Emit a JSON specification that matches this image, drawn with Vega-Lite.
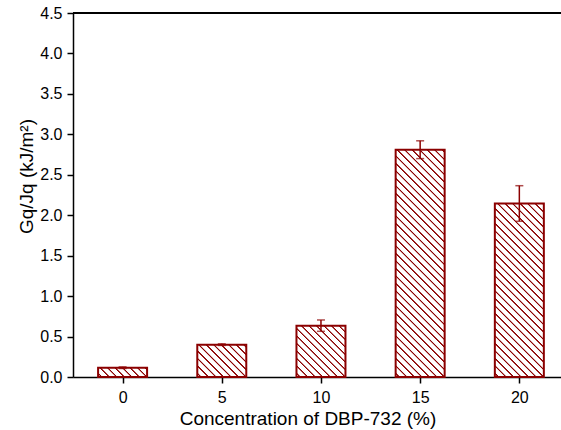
{
  "$schema": "https://vega.github.io/schema/vega-lite/v6.json",
  "width": 488,
  "height": 364,
  "autosize": {"type": "none"},
  "padding": {"left": 73, "top": 13, "right": 0, "bottom": 53},
  "background": "white",
  "config": {
    "view": {"stroke": null},
    "axis": {
      "labelFont": "Liberation Sans",
      "titleFont": "Liberation Sans",
      "domainColor": "#000",
      "tickColor": "#000",
      "labelColor": "#000",
      "titleColor": "#000",
      "grid": false,
      "domainWidth": 1.5,
      "tickWidth": 1.5,
      "labelFontSize": 16,
      "titleFontSize": 19,
      "titleFontWeight": "normal"
    }
  },
  "data": {
    "values": [
      {"conc": 0, "value": 0.115, "sd": 0.01},
      {"conc": 5, "value": 0.40, "sd": 0.01},
      {"conc": 10, "value": 0.635, "sd": 0.07},
      {"conc": 15, "value": 2.81, "sd": 0.11},
      {"conc": 20, "value": 2.145, "sd": 0.22}
    ]
  },
  "layer": [
    {
      "mark": {"type": "bar", "size": 49, "stroke": "#8b0000", "strokeWidth": 2},
      "encoding": {
        "x": {
          "field": "conc", "type": "quantitative",
          "title": "Concentration of DBP-732 (%)",
          "scale": {"domain": [-2.5, 22.1], "nice": false, "zero": false, "padding": 0},
          "axis": {
            "values": [0, 5, 10, 15, 20],
            "format": "d",
            "tickSize": 6,
            "labelPadding": 6,
            "labelFontSize": 16,
            "titleFontSize": 19,
            "titleFontWeight": "normal",
            "titleX": 234.5,
            "titleY": 47,
            "titleBaseline": "alphabetic"
          }
        },
        "y": {
          "field": "value", "type": "quantitative",
          "title": "Gq/Jq (kJ/m²)",
          "scale": {"domain": [0, 4.5], "nice": false, "padding": 0},
          "axis": {
            "values": [0, 0.25, 0.5, 0.75, 1, 1.25, 1.5, 1.75, 2, 2.25, 2.5, 2.75, 3, 3.25, 3.5, 3.75, 4, 4.25, 4.5],
            "labelExpr": "datum.value % 0.5 === 0 ? format(datum.value, '.1f') : ''",
            "tickSize": {"condition": {"test": "datum.value % 0.5 !== 0", "value": 3}, "value": 6},
            "labelPadding": 5,
            "labelFontSize": 16,
            "titleFontSize": 19,
            "titleFontWeight": "normal",
            "titleX": -41,
            "titleY": 163,
            "titleBaseline": "alphabetic"
          }
        },
        "fill": {"value": {"expr": "{gradient:'linear', x1:0, y1:1, x2: 300*49/(2401+pow(datum.value*80.8889,2)), y2: 1-300*datum.value*80.8889/(2401+pow(datum.value*80.8889,2)), stops:[{offset:0.0085,color:'#fff'},{offset:0.011,color:'#8b0000'},{offset:0.014,color:'#8b0000'},{offset:0.0165,color:'#fff'},{offset:0.0335,color:'#fff'},{offset:0.036,color:'#8b0000'},{offset:0.039,color:'#8b0000'},{offset:0.0415,color:'#fff'},{offset:0.0585,color:'#fff'},{offset:0.061,color:'#8b0000'},{offset:0.064,color:'#8b0000'},{offset:0.0665,color:'#fff'},{offset:0.0835,color:'#fff'},{offset:0.086,color:'#8b0000'},{offset:0.089,color:'#8b0000'},{offset:0.0915,color:'#fff'},{offset:0.1085,color:'#fff'},{offset:0.111,color:'#8b0000'},{offset:0.114,color:'#8b0000'},{offset:0.1165,color:'#fff'},{offset:0.1335,color:'#fff'},{offset:0.136,color:'#8b0000'},{offset:0.139,color:'#8b0000'},{offset:0.1415,color:'#fff'},{offset:0.1585,color:'#fff'},{offset:0.161,color:'#8b0000'},{offset:0.164,color:'#8b0000'},{offset:0.1665,color:'#fff'},{offset:0.1835,color:'#fff'},{offset:0.186,color:'#8b0000'},{offset:0.189,color:'#8b0000'},{offset:0.1915,color:'#fff'},{offset:0.2085,color:'#fff'},{offset:0.211,color:'#8b0000'},{offset:0.214,color:'#8b0000'},{offset:0.2165,color:'#fff'},{offset:0.2335,color:'#fff'},{offset:0.236,color:'#8b0000'},{offset:0.239,color:'#8b0000'},{offset:0.2415,color:'#fff'},{offset:0.2585,color:'#fff'},{offset:0.261,color:'#8b0000'},{offset:0.264,color:'#8b0000'},{offset:0.2665,color:'#fff'},{offset:0.2835,color:'#fff'},{offset:0.286,color:'#8b0000'},{offset:0.289,color:'#8b0000'},{offset:0.2915,color:'#fff'},{offset:0.3085,color:'#fff'},{offset:0.311,color:'#8b0000'},{offset:0.314,color:'#8b0000'},{offset:0.3165,color:'#fff'},{offset:0.3335,color:'#fff'},{offset:0.336,color:'#8b0000'},{offset:0.339,color:'#8b0000'},{offset:0.3415,color:'#fff'},{offset:0.3585,color:'#fff'},{offset:0.361,color:'#8b0000'},{offset:0.364,color:'#8b0000'},{offset:0.3665,color:'#fff'},{offset:0.3835,color:'#fff'},{offset:0.386,color:'#8b0000'},{offset:0.389,color:'#8b0000'},{offset:0.3915,color:'#fff'},{offset:0.4085,color:'#fff'},{offset:0.411,color:'#8b0000'},{offset:0.414,color:'#8b0000'},{offset:0.4165,color:'#fff'},{offset:0.4335,color:'#fff'},{offset:0.436,color:'#8b0000'},{offset:0.439,color:'#8b0000'},{offset:0.4415,color:'#fff'},{offset:0.4585,color:'#fff'},{offset:0.461,color:'#8b0000'},{offset:0.464,color:'#8b0000'},{offset:0.4665,color:'#fff'},{offset:0.4835,color:'#fff'},{offset:0.486,color:'#8b0000'},{offset:0.489,color:'#8b0000'},{offset:0.4915,color:'#fff'},{offset:0.5085,color:'#fff'},{offset:0.511,color:'#8b0000'},{offset:0.514,color:'#8b0000'},{offset:0.5165,color:'#fff'},{offset:0.5335,color:'#fff'},{offset:0.536,color:'#8b0000'},{offset:0.539,color:'#8b0000'},{offset:0.5415,color:'#fff'},{offset:0.5585,color:'#fff'},{offset:0.561,color:'#8b0000'},{offset:0.564,color:'#8b0000'},{offset:0.5665,color:'#fff'},{offset:0.5835,color:'#fff'},{offset:0.586,color:'#8b0000'},{offset:0.589,color:'#8b0000'},{offset:0.5915,color:'#fff'},{offset:0.6085,color:'#fff'},{offset:0.611,color:'#8b0000'},{offset:0.614,color:'#8b0000'},{offset:0.6165,color:'#fff'},{offset:0.6335,color:'#fff'},{offset:0.636,color:'#8b0000'},{offset:0.639,color:'#8b0000'},{offset:0.6415,color:'#fff'},{offset:0.6585,color:'#fff'},{offset:0.661,color:'#8b0000'},{offset:0.664,color:'#8b0000'},{offset:0.6665,color:'#fff'},{offset:0.6835,color:'#fff'},{offset:0.686,color:'#8b0000'},{offset:0.689,color:'#8b0000'},{offset:0.6915,color:'#fff'},{offset:0.7085,color:'#fff'},{offset:0.711,color:'#8b0000'},{offset:0.714,color:'#8b0000'},{offset:0.7165,color:'#fff'},{offset:0.7335,color:'#fff'},{offset:0.736,color:'#8b0000'},{offset:0.739,color:'#8b0000'},{offset:0.7415,color:'#fff'},{offset:0.7585,color:'#fff'},{offset:0.761,color:'#8b0000'},{offset:0.764,color:'#8b0000'},{offset:0.7665,color:'#fff'},{offset:0.7835,color:'#fff'},{offset:0.786,color:'#8b0000'},{offset:0.789,color:'#8b0000'},{offset:0.7915,color:'#fff'},{offset:0.8085,color:'#fff'},{offset:0.811,color:'#8b0000'},{offset:0.814,color:'#8b0000'},{offset:0.8165,color:'#fff'},{offset:0.8335,color:'#fff'},{offset:0.836,color:'#8b0000'},{offset:0.839,color:'#8b0000'},{offset:0.8415,color:'#fff'},{offset:0.8585,color:'#fff'},{offset:0.861,color:'#8b0000'},{offset:0.864,color:'#8b0000'},{offset:0.8665,color:'#fff'},{offset:0.8835,color:'#fff'},{offset:0.886,color:'#8b0000'},{offset:0.889,color:'#8b0000'},{offset:0.8915,color:'#fff'},{offset:0.9085,color:'#fff'},{offset:0.911,color:'#8b0000'},{offset:0.914,color:'#8b0000'},{offset:0.9165,color:'#fff'},{offset:0.9335,color:'#fff'},{offset:0.936,color:'#8b0000'},{offset:0.939,color:'#8b0000'},{offset:0.9415,color:'#fff'},{offset:0.9585,color:'#fff'},{offset:0.961,color:'#8b0000'},{offset:0.964,color:'#8b0000'},{offset:0.9665,color:'#fff'},{offset:0.9835,color:'#fff'},{offset:0.986,color:'#8b0000'},{offset:0.989,color:'#8b0000'},{offset:0.9915,color:'#fff'}]}"}}
      }
    },
    {
      "mark": {
        "type": "errorbar",
        "ticks": {"size": 8, "color": "#8b0000"},
        "rule": {"color": "#8b0000"},
        "thickness": 1.5
      },
      "encoding": {
        "x": {"field": "conc", "type": "quantitative", "title": "Concentration of DBP-732 (%)"},
        "y": {"field": "value", "type": "quantitative", "title": "Gq/Jq (kJ/m²)"},
        "yError": {"field": "sd"}
      }
    },
    {
      "mark": {"type": "rule", "color": "#000", "strokeWidth": 1.5},
      "encoding": {
        "y": {"datum": 4.5}
      }
    }
  ]
}
